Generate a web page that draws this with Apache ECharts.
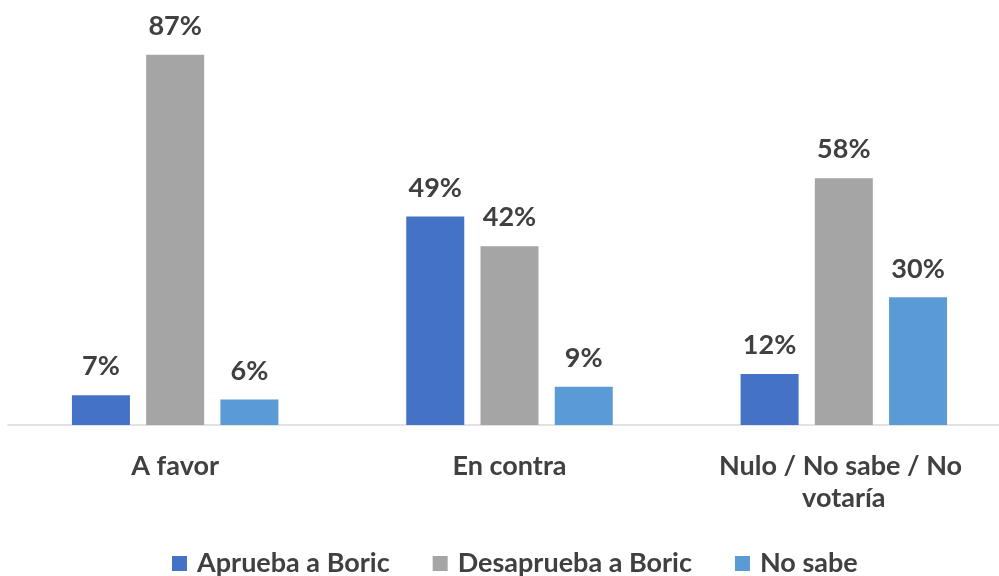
<!DOCTYPE html>
<html>
<head>
<meta charset="utf-8">
<script src="https://cdn.jsdelivr.net/npm/echarts@6/dist/echarts.min.js"></script>
<style>
  html, body { margin: 0; padding: 0; background: #fff; }
  #chart { width: 999px; height: 576px; }
</style>
</head>
<body>
<div id="chart"></div>
<script>
// data
var categories = ["A favor", "En contra", "Nulo / No sabe / No votaría"];
var seriesNames = ["Aprueba a Boric", "Desaprueba a Boric", "No sabe"];
var aprueba = [7, 49, 12];
var desaprueba = [87, 42, 58];
var noSabe = [6, 9, 30];
var colors = ["#4472C4", "#A5A5A5", "#5B9BD5"];

var font = "Lato";
var textColor = "#404040";

function makeSeries(name, values, color) {
  return {
    name: name,
    type: "bar",
    data: values,
    barWidth: 58,
    barGap: "28%",
    itemStyle: { color: color },
    label: {
      show: true,
      position: "top",
      distance: 15,
      formatter: "{c}%",
      fontFamily: font,
      fontWeight: "bold",
      fontSize: 27,
      color: textColor,
    },
  };
}

var chart = echarts.init(document.getElementById("chart"));
chart.setOption({
  animation: false,
  color: colors,
  grid: {
    left: 8,
    right: -12,
    top: 42,
    bottom: 151,
    containLabel: false,
    outerBoundsMode: "none",
  },
  legend: {
    data: seriesNames,
    top: 550,
    left: 172,
    padding: 0,
    icon: "rect",
    itemWidth: 15,
    itemHeight: 15,
    itemGap: 43,
    textStyle: {
      fontFamily: font,
      fontWeight: "bold",
      fontSize: 27,
      color: textColor,
      padding: [0, 0, 0, 5],
    },
  },
  xAxis: {
    type: "category",
    data: categories,
    axisLine: { lineStyle: { color: "#d9d9d9", width: 1.5 } },
    axisTick: { show: false },
    axisLabel: {
      margin: 25,
      fontFamily: font,
      fontWeight: "bold",
      fontSize: 27,
      lineHeight: 32,
      color: textColor,
      width: 290,
      overflow: "break",
      interval: 0,
    },
  },
  yAxis: {
    type: "value",
    min: 0,
    max: 90,
    show: false,
    splitLine: { show: false },
  },
  series: [
    makeSeries(seriesNames[0], aprueba, colors[0]),
    makeSeries(seriesNames[1], desaprueba, colors[1]),
    makeSeries(seriesNames[2], noSabe, colors[2]),
  ],
});
</script>
</body>
</html>
